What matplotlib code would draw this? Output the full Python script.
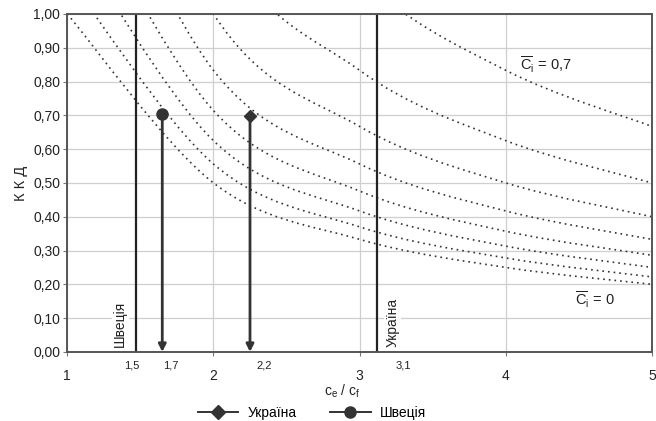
import matplotlib.pyplot as plt
import numpy as np
from matplotlib.path import Path
from matplotlib.patches import PathPatch
from matplotlib.lines import Line2D

plt.rcParams['font.family'] = ['Liberation Sans', 'DejaVu Sans']
plt.rcParams['mathtext.fontset'] = 'custom'
plt.rcParams['mathtext.rm'] = 'Liberation Sans'
plt.rcParams['mathtext.it'] = 'Liberation Sans:italic'

# дані кривих (значення ККД у вузлах c_e/c_f = 1..5), C_i = 0 ... 0,7
x_nodes = [1, 2, 3, 4, 5]
curve_c = [0, 0.1, 0.2, 0.3, 0.4, 0.5, 0.6, 0.7]
curve_vals = [
    [1.000, 0.500, 0.333, 0.250, 0.200],
    [1.111, 0.556, 0.370, 0.278, 0.222],
    [1.250, 0.625, 0.417, 0.313, 0.250],
    [1.429, 0.714, 0.476, 0.357, 0.286],
    [1.667, 0.833, 0.556, 0.417, 0.333],
    [2.000, 1.000, 0.667, 0.500, 0.400],
    [2.500, 1.250, 0.833, 0.625, 0.500],
    [3.333, 1.667, 1.111, 0.833, 0.667],
]

# країни
countries = ['Україна', 'Швеція']
country_line_x = [3.12, 1.47]      # вертикальні лінії
country_line_lbl = ['3,1', '1,5']
country_pt_x = [2.25, 1.65]        # точки зі стрілками
country_pt_y = [0.697, 0.703]
country_pt_lbl = ['2,2', '1,7']
country_marker = ['D', 'o']

y_ticks = np.arange(0, 1.01, 0.1)
x_ticks = [1, 2, 3, 4, 5]

dark = '#333333'
grid_c = '#cfcfcf'


def smooth_path(xs, ys):
    # згладжена лінія як в Excel (Catmull-Rom -> Bezier)
    pts = np.column_stack([xs, ys])
    n = len(pts)
    verts = [pts[0]]
    codes = [Path.MOVETO]
    for i in range(n - 1):
        p_prev = pts[i - 1] if i > 0 else pts[i]
        p_next2 = pts[i + 2] if i + 2 < n else pts[i + 1]
        c1 = pts[i] + (pts[i + 1] - p_prev) / 6
        c2 = pts[i + 1] - (p_next2 - pts[i]) / 6
        verts += [c1, c2, pts[i + 1]]
        codes += [Path.CURVE4] * 3
    return Path(verts, codes)


fig = plt.figure(figsize=(6.56, 4.21), dpi=100)
ax = fig.add_axes([0.1025, 0.164, 0.8915, 0.803])
ax.set_xlim(1, 5)
ax.set_ylim(0, 1)

ax.set_yticks(y_ticks)
ax.set_yticklabels([f'{v:.2f}'.replace('.', ',') for v in y_ticks], fontsize=10, color='#222')
ax.set_xticks(x_ticks)
ax.set_xticklabels([str(v) for v in x_ticks], fontsize=10, color='#222')
ax.tick_params(axis='x', length=3, pad=9, color='#777')
ax.tick_params(axis='y', length=3, pad=2, color='#777')
ax.grid(True, color=grid_c, lw=0.9)
ax.set_axisbelow(True)
for s in ax.spines.values():
    s.set_color('#555555')
    s.set_linewidth(1.4)

for vals in curve_vals:
    patch = PathPatch(smooth_path(x_nodes, vals), fill=False, edgecolor=dark,
                      lw=1.2, linestyle=(0, (1, 2.4)))
    ax.add_patch(patch)

# вертикальні лінії країн
txt_bg = dict(facecolor='white', edgecolor='none', pad=1)
ax.axvline(country_line_x[1], color='#222', lw=1.6)
ax.axvline(country_line_x[0], color='#222', lw=1.6)
ax.text(country_line_x[1] - 0.06, 0.015, countries[1], rotation=90, ha='right', va='bottom',
        fontsize=10, color='#222', bbox=txt_bg)
ax.text(country_line_x[0] + 0.055, 0.015, countries[0], rotation=90, ha='left', va='bottom',
        fontsize=10, color='#222', bbox=txt_bg)

# стрілки та маркери
for i in range(2):
    ax.annotate('', xy=(country_pt_x[i], 0.0), xytext=(country_pt_x[i], country_pt_y[i]),
                arrowprops=dict(arrowstyle='-|>', color=dark, lw=2.0, mutation_scale=11,
                                shrinkA=0, shrinkB=0))
    ax.plot(country_pt_x[i], country_pt_y[i], marker=country_marker[i], color=dark,
            markersize=6 if country_marker[i] == 'D' else 8, zorder=5)

# підписи значень під віссю
lbl_x = [country_line_x[1] - 0.03, country_pt_x[1] + 0.06, country_pt_x[0] + 0.1,
         country_line_x[0] + 0.18]
lbl_t = [country_line_lbl[1], country_pt_lbl[1], country_pt_lbl[0], country_line_lbl[0]]
for xx, tt in zip(lbl_x, lbl_t):
    ax.text(xx, -0.025, tt, ha='center', va='top', fontsize=8, color='#222')

ax.text(4.1, 0.85, r'$\overline{\mathrm{C}}_\mathrm{i}$ = 0,7', fontsize=10.5, color='#222',
        ha='left', va='center')
ax.text(4.47, 0.155, r'$\overline{\mathrm{C}}_\mathrm{i}$ = 0', fontsize=10.5, color='#222',
        ha='left', va='center')

ax.set_ylabel('К К Д', fontsize=10.5, color='#222', labelpad=4)
fig.text(342 / 656, 1 - 391 / 421, r'c$_\mathrm{e}$ / c$_\mathrm{f}$', ha='center', va='center',
         fontsize=10, color='#222')

handles = [Line2D([], [], color=dark, lw=1.4, marker=m, markersize=7 if m == 'D' else 8)
           for m in country_marker]
fig.legend(handles, countries, loc='center', bbox_to_anchor=(0.476, 0.02), ncol=2,
           frameon=False, fontsize=10, handlelength=2.9, handletextpad=0.7, columnspacing=2.4)

fig.savefig('out.png', dpi=100)
